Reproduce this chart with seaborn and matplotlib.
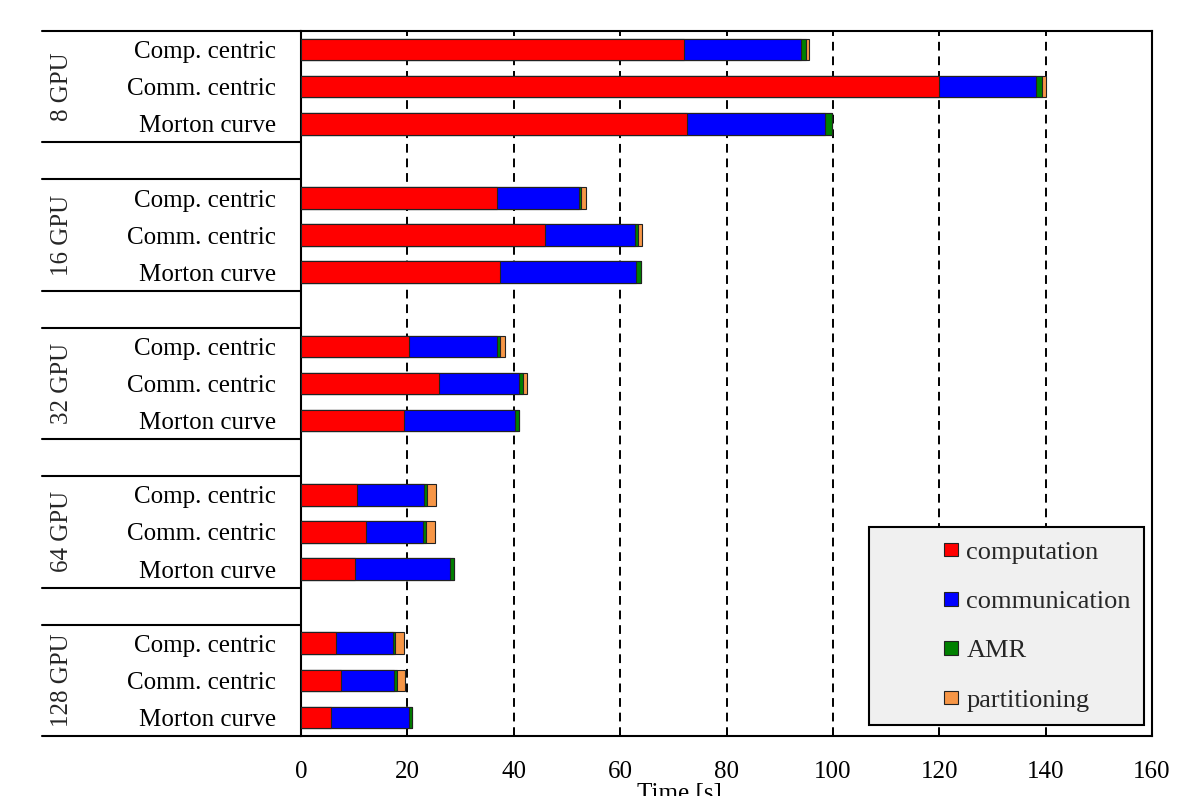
import matplotlib
matplotlib.use("Agg")
import matplotlib.pyplot as plt
import matplotlib.patches as mpatches
from matplotlib.legend_handler import HandlerPatch
import numpy as np
import pandas as pd
import seaborn as sns

# ---- data -------------------------------------------------------------
gpu_groups = ["8 GPU", "16 GPU", "32 GPU", "64 GPU", "128 GPU"]
methods = ["Comp. centric", "Comm. centric", "Morton curve"]

# time per phase [s], ordered group by group, method by method
computation = [72.0, 120.0, 72.6, 36.8, 45.9, 37.5, 20.3, 26.0, 19.4,
               10.5, 12.2, 10.2, 6.6, 7.6, 5.6]
communication = [22.0, 18.2, 26.0, 15.4, 16.8, 25.4, 16.5, 14.9, 20.8,
                 12.7, 10.8, 17.8, 10.6, 9.8, 14.7]
amr = [0.9, 1.1, 1.2, 0.4, 0.6, 1.0, 0.7, 0.8, 0.8,
       0.5, 0.4, 0.8, 0.5, 0.6, 0.6]
partitioning = [0.7, 0.7, 0.0, 0.9, 0.8, 0.0, 0.9, 0.8, 0.0,
                1.6, 1.7, 0.0, 1.7, 1.6, 0.0]

phase_names = ["computation", "communication", "AMR", "partitioning"]
phase_colors = ["#ff0000", "#0000ff", "#008000", "#f79646"]
x_ticks = [0, 20, 40, 60, 80, 100, 120, 140, 160]

# ---- table ------------------------------------------------------------
records = []
row_order = []
for gi, g in enumerate(gpu_groups):
    for mi, m in enumerate(methods):
        k = gi * len(methods) + mi
        key = f"{g} | {m}"
        row_order.append(key)
        records.append({"row": key, "method": m,
                        "computation": computation[k],
                        "communication": communication[k],
                        "AMR": amr[k],
                        "partitioning": partitioning[k]})
    if gi < len(gpu_groups) - 1:
        row_order.append(f"gap {gi}")
df = pd.DataFrame(records)
# cumulative ends for stacking
cum = df[phase_names].cumsum(axis=1)
for p in phase_names:
    df["end_" + p] = cum[p]

# ---- style ------------------------------------------------------------
sns.set_theme(style="white")
plt.rcParams["font.family"] = ["Liberation Serif", "DejaVu Serif"]
plt.rcParams["font.size"] = 18
plt.rcParams["axes.linewidth"] = 1.5

fig = plt.figure(figsize=(11.82, 7.96), dpi=100)
ax = fig.add_axes([0.2547, 0.0754, 0.7199, 0.8856])

edge = "#222222"
for p, c in reversed(list(zip(phase_names, phase_colors))):
    sns.barplot(data=df, x="end_" + p, y="row", order=row_order,
                orient="h", color=c, saturation=1, width=0.58,
                edgecolor=edge, linewidth=0.8, errorbar=None, ax=ax,
                zorder=3)

ax.set_xlim(0, 160)
ax.set_ylim(len(row_order) - 0.5, -0.5)
ax.set_xticks(x_ticks)
ax.set_xticklabels([str(t) for t in x_ticks])
ax.xaxis.grid(True, color="black", lw=1.4, ls=(0, (4.5, 3)))
ax.yaxis.grid(False)
ax.set_axisbelow(True)
for s in ax.spines.values():
    s.set_visible(True)
    s.set_color("black")
    s.set_linewidth(1.5)

ax.tick_params(axis="x", direction="in", length=6, width=1.2, pad=18,
               labelsize=18, colors="black", bottom=True)
ytl = [r.split(" | ")[1] if " | " in r else "" for r in row_order]
ax.set_yticks(range(len(row_order)))
ax.set_yticklabels(ytl)
ax.tick_params(axis="y", length=0, pad=18, labelsize=18, colors="black")
ax.set_ylabel("")
ax.set_xlabel("Time [s]", fontsize=18, color="black")
ax.xaxis.set_label_coords(0.445, -0.066)

# group brackets and labels on the left
trans = ax.get_yaxis_transform()
x_line = (42 - 301) / 851
x_lab = (62 - 301) / 851
for gi, g in enumerate(gpu_groups):
    top = gi * 4 - 0.5
    bot = gi * 4 + 2.5
    for yy in (top, bot):
        ax.plot([x_line, 0], [yy, yy], color="black", lw=1.5,
                transform=trans, clip_on=False)
    ax.text(x_lab, gi * 4 + 1, g, rotation=90, ha="center", va="center",
            fontsize=18, transform=trans)


# legend with small squares set toward the text
def square_patch(legend, orig_handle, xdescent, ydescent, width, height,
                 fontsize):
    s = 10.0
    return mpatches.Rectangle((width - s - xdescent,
                               (height - s) / 2 - ydescent), s, s)


handles = [mpatches.Patch(facecolor=c, edgecolor=edge, lw=0.8, label=p)
           for p, c in zip(phase_names, phase_colors)]
leg = ax.legend(handles=handles, loc="lower right",
                bbox_to_anchor=(0.9906, 0.0156), borderaxespad=0,
                fontsize=19, frameon=True, fancybox=False,
                facecolor="#f0f0f0", edgecolor="black", framealpha=1,
                borderpad=0.5, labelspacing=0.98, handlelength=2.9,
                handletextpad=0.3,
                handler_map={mpatches.Patch: HandlerPatch(patch_func=square_patch)})
leg.get_frame().set_linewidth(1.5)
leg.set_zorder(10)

fig.savefig("out.png", dpi=100)
